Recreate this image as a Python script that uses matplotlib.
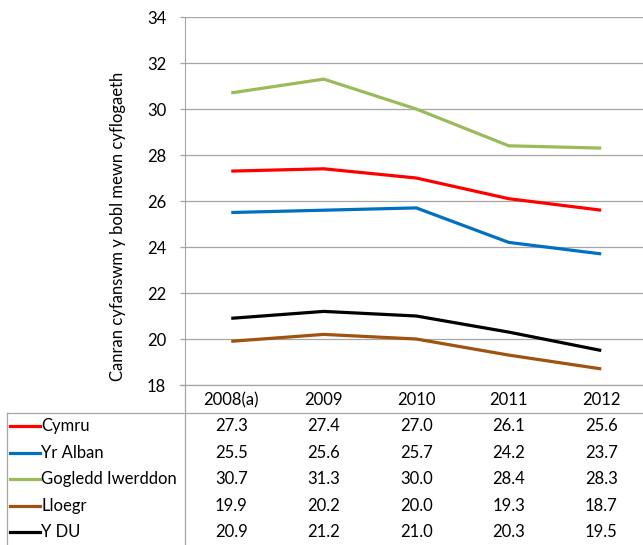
import matplotlib.pyplot as plt
import matplotlib.transforms as mtransforms
from matplotlib.lines import Line2D

plt.rcParams['font.family'] = ['Lato', 'DejaVu Sans']

years = ["2008(a)", "2009", "2010", "2011", "2012"]
names = ["Cymru", "Yr Alban", "Gogledd Iwerddon", "Lloegr", "Y DU"]
cymru = [27.3, 27.4, 27.0, 26.1, 25.6]
yr_alban = [25.5, 25.6, 25.7, 24.2, 23.7]
gogledd = [30.7, 31.3, 30.0, 28.4, 28.3]
lloegr = [19.9, 20.2, 20.0, 19.3, 18.7]
y_du = [20.9, 21.2, 21.0, 20.3, 19.5]
series = [cymru, yr_alban, gogledd, lloegr, y_du]
colors = ["#FF0000", "#0070C0", "#9BBB59", "#A0520F", "#000000"]

W, H = 643, 545
fig = plt.figure(figsize=(W / 100, H / 100), dpi=100)
fs = 12

def fx(px):
    return px / W

def fy(py):
    return 1 - py / H

ax_left, ax_right, ax_top, ax_bottom = 185, 647.5, 17, 385
ax = fig.add_axes([fx(ax_left), fy(ax_bottom), fx(ax_right - ax_left), fy(ax_top) - fy(ax_bottom)])

grid_col = "#A6A6A6"
xs = range(len(years))
for vals, c in zip(series, colors):
    ax.plot(xs, vals, color=c, lw=2.3, solid_capstyle='butt', zorder=3)

ax.set_xlim(-0.5, len(years) - 0.5)
ax.set_ylim(18, 34)
ax.set_yticks(range(18, 35, 2))
ax.set_xticks([])
ax.yaxis.grid(True, color=grid_col, lw=0.9)
ax.set_axisbelow(True)
for s in ['top', 'right', 'bottom']:
    ax.spines[s].set_visible(False)
ax.spines['left'].set_color(grid_col)
ax.tick_params(axis='y', length=3.6, width=0.9, color=grid_col, pad=10, labelsize=fs)

fig.text(fx(118), fy(226), "Canran cyfanswm y bobl mewn cyflogaeth",
         rotation=90, ha='center', va='center', fontsize=fs)

# data table below the axes
lc = dict(color=grid_col, lw=0.9)
fig.add_artist(Line2D([fx(ax_left), fx(ax_left)], [0, fy(ax_bottom)], **lc))
fig.add_artist(Line2D([fx(180), 1], [fy(385), fy(385)], **lc))
fig.add_artist(Line2D([fx(7), 1], [fy(413), fy(413)], **lc))
fig.add_artist(Line2D([fx(7), fx(7)], [0, fy(413)], **lc))

tr = mtransforms.blended_transform_factory(ax.transData, fig.transFigure)
for i, yr in enumerate(years):
    fig.text(i, fy(400), yr, transform=tr, ha='center', va='center', fontsize=fs)

row_y = [426, 453, 479, 506, 532]
for name, vals, c, ry in zip(names, series, colors, row_y):
    fig.add_artist(Line2D([fx(10), fx(40)], [fy(ry), fy(ry)], color=c, lw=2.3))
    fig.text(fx(41), fy(ry), name, ha='left', va='center', fontsize=fs)
    for i, v in enumerate(vals):
        fig.text(i, fy(ry), f"{v:.1f}", transform=tr, ha='center', va='center', fontsize=fs)

fig.savefig("out.png", dpi=100)
